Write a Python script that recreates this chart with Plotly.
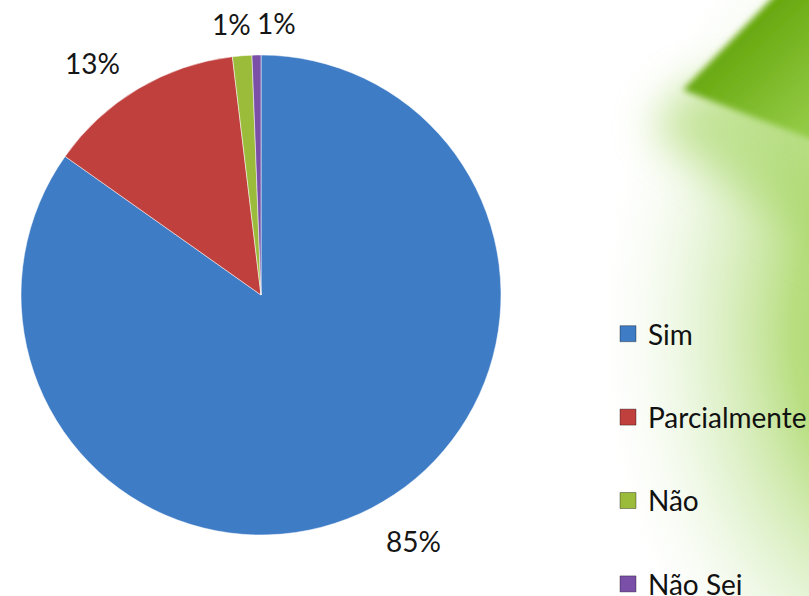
import base64
import math
import plotly.graph_objects as go

labels = ["Sim", "Parcialmente", "Não", "Não Sei"]
values = [84.8, 13.3, 1.3, 0.6]
colors = ["#3f7cc6", "#c0403e", "#9bbb3a", "#7a4fa8"]

W, H = 809, 596
CX, CY, R = 261, 295, 240  # pie centre / radius in pixels

svg = '''<svg xmlns="http://www.w3.org/2000/svg" width="809" height="596" viewBox="0 0 809 596">
<defs>
<filter id="b1" filterUnits="userSpaceOnUse" x="0" y="0" width="809" height="596"><feGaussianBlur stdDeviation="22"/></filter>
<filter id="b2" filterUnits="userSpaceOnUse" x="0" y="0" width="809" height="596"><feGaussianBlur stdDeviation="3"/></filter>
<radialGradient id="r1" cx="0.5" cy="0.5" r="0.5">
<stop offset="0" stop-color="#9ccf52" stop-opacity="1"/>
<stop offset="0.4" stop-color="#b0da72" stop-opacity="0.9"/>
<stop offset="0.7" stop-color="#d3ecb8" stop-opacity="0.55"/>
<stop offset="1" stop-color="#f2f9ea" stop-opacity="0"/>
</radialGradient>
<linearGradient id="g2" gradientUnits="userSpaceOnUse" x1="730" y1="44" x2="805" y2="125">
<stop offset="0" stop-color="#68a80f"/>
<stop offset="1" stop-color="#92ca44"/>
</linearGradient>
</defs>
<rect width="809" height="596" fill="#ffffff"/>
<ellipse cx="920" cy="330" rx="320" ry="450" fill="url(#r1)"/>
<polygon points="683,88 840,60 840,260 650,130" fill="#a3d45e" opacity="0.6" filter="url(#b1)"/>
<polygon points="780,-10 840,-10 840,150 683,90" fill="url(#g2)" filter="url(#b2)"/>
</svg>'''
src = "data:image/svg+xml;base64," + base64.b64encode(svg.encode()).decode()

fig = go.Figure()
fig.add_trace(go.Pie(
    labels=labels, values=values, sort=False, direction="clockwise", rotation=0,
    marker=dict(colors=colors, line=dict(color="rgba(255,255,255,0.5)", width=1)),
    textinfo="none", showlegend=False, hoverinfo="label+percent",
    domain=dict(x=[(CX - R) / W, (CX + R) / W], y=[1 - (CY + R) / H, 1 - (CY - R) / H]),
))
for lab, col in zip(labels, colors):
    fig.add_trace(go.Scatter(
        x=[None], y=[None], mode="markers", name=lab, legendgroup=lab,
        marker=dict(symbol="square", size=16, color=col, line=dict(color="rgba(0,0,0,0.35)", width=1)),
    ))

# percentage labels placed outside each slice at its mid-angle
total = sum(values)
offsets = [52, 45, 30, 30]
xshifts = [18, -23, -8, 21]
yshifts = [13, -13, 2, 2]
cum = 0
annotations = []
for v, off, xs, ys in zip(values, offsets, xshifts, yshifts):
    mid = (cum + v / 2) / total * 2 * math.pi
    cum += v
    px = CX + (R + off) * math.sin(mid)
    py = CY - (R + off) * math.cos(mid)
    annotations.append(dict(
        x=px / W, y=1 - py / H, xref="paper", yref="paper", showarrow=False,
        xanchor="center", yanchor="middle", xshift=xs, yshift=ys,
        text=f"{round(v / total * 100)}%",
        font=dict(family="Lato", size=28, color="#161616"),
    ))

fig.update_layout(
    width=W, height=H,
    margin=dict(l=0, r=0, t=0, b=0, autoexpand=False),
    paper_bgcolor="rgba(0,0,0,0)", plot_bgcolor="rgba(0,0,0,0)",
    xaxis=dict(visible=False), yaxis=dict(visible=False),
    images=[dict(source=src, xref="paper", yref="paper", x=0, y=1, sizex=1, sizey=1,
                 xanchor="left", yanchor="top", sizing="stretch", layer="below")],
    annotations=annotations,
    legend=dict(x=608 / W, y=1 - 309 / H, xanchor="left", yanchor="top",
                font=dict(family="Lato", size=28, color="#111111"),
                tracegroupgap=44, bgcolor="rgba(0,0,0,0)", itemwidth=30),
)
fig.write_html("out.html")
